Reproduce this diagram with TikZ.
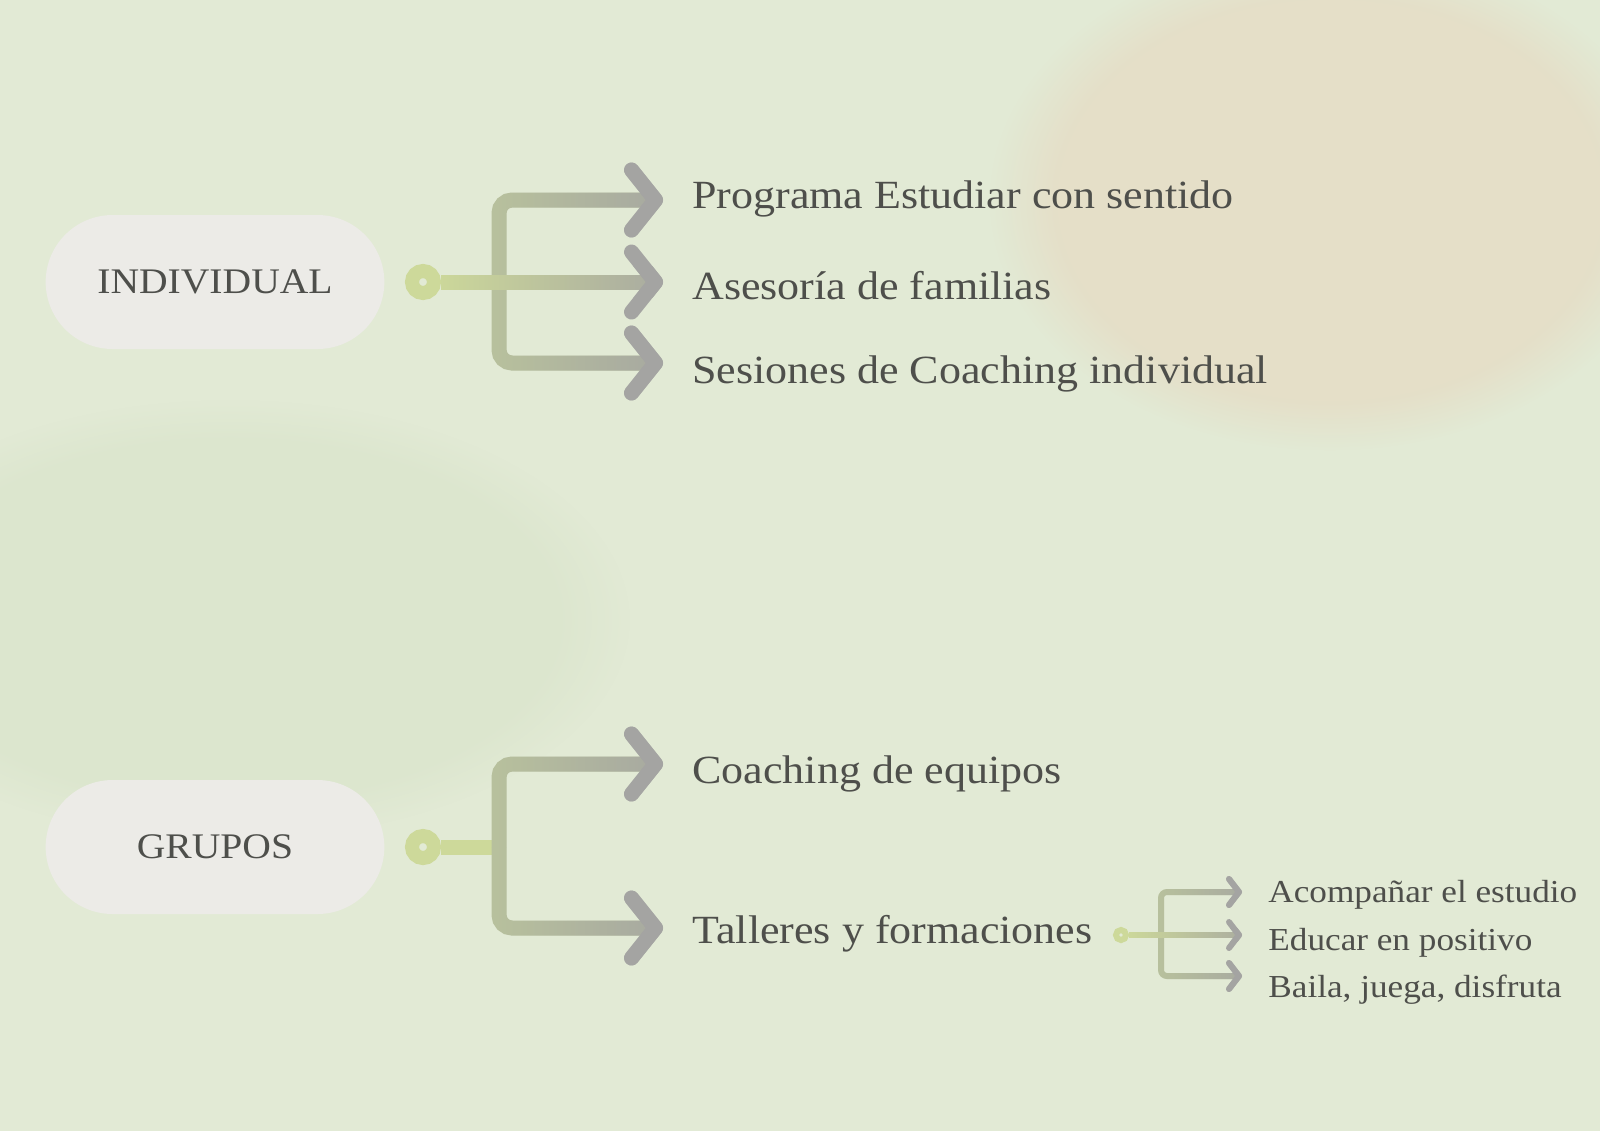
\documentclass[tikz,border=0pt]{standalone}
\usepackage{fontspec}
\setmainfont[FakeStretch=1.1]{Liberation Serif}
\usetikzlibrary{
  arrows.meta,
  positioning,
  shapes.misc,
  fadings
}
\definecolor{bgGreen}{HTML}{E2EAD5}
\definecolor{stainBeige}{HTML}{E5DFC8}
\definecolor{stainGreen}{HTML}{DCE6CE}
\definecolor{pillFill}{HTML}{ECEBE7}
\definecolor{inkGray}{HTML}{4E4F4B}
\definecolor{dotGreen}{HTML}{CDD99A}
\definecolor{barGreen}{HTML}{B8C19D}
\definecolor{tipGray}{HTML}{A4A4A2}
\tikzfading[name=toGray, left color=transparent!100, right color=transparent!0]

\begin{document}
\begin{tikzpicture}[
  x=0.5pt, y=-0.5pt,
  pill/.style={rounded rectangle, fill=pillFill, minimum width=176pt, minimum height=67pt,
    text=inkGray, font=\fontsize{18pt}{22pt}\selectfont},
  item/.style={anchor=west, inner sep=0pt, text=inkGray, text height=13pt, text depth=0pt,
    font=\fontsize{20pt}{24pt}\selectfont},
  subitem/.style={item, text height=10.5pt, font=\fontsize{16pt}{19pt}\selectfont},
  knob/.style={circle, draw=dotGreen, line width=7pt, minimum size=11pt, inner sep=0pt},
  arm/.style={line width=7.5pt, rounded corners=6.5pt, draw=barGreen,
    -{Straight Barb[length=12pt, width=30pt, round, color=tipGray]}, shorten >=14.5pt,
    postaction={draw=tipGray, path fading=toGray}},
  stem/.style={arm, draw=dotGreen},
  link/.style={line width=7.5pt, draw=dotGreen},
  subarm/.style={arm, line width=3pt, rounded corners=3pt,
    -{Straight Barb[length=5pt, width=13pt, round, color=tipGray]}, shorten >=13pt},
  substem/.style={subarm, draw=dotGreen}
]

% background
\useasboundingbox (0,0) rectangle (1600,1131);
\fill[bgGreen] (0,0) rectangle (1600,1131);
\clip (0,0) rectangle (1600,1131);
\fill[stainBeige, path fading=circle with fuzzy edge 20 percent] (1330,200) ellipse [x radius=170pt, y radius=125pt];
\fill[stainGreen, path fading=circle with fuzzy edge 20 percent] (230,620) ellipse [x radius=200pt, y radius=110pt];

% Individual
\node[pill] (ind) at (215,282) {INDIVIDUAL};
\node[knob] (indDot) at (423,282) {};
\coordinate (indFork) at (499,282);
\node[item] (prog) at (692,195) {Programa Estudiar con sentido};
\node[item] (ases) at (692,286) {Asesoría de familias};
\node[item] (sesi) at (692,370) {Sesiones de Coaching individual};

\draw[arm] (indFork) |- ([yshift=-2.5pt]prog.west);
\draw[arm] (indFork) |- ([yshift=3.5pt]sesi.west);
\draw[stem] (indDot.east) -- ([yshift=2pt]ases.west);

% Grupos
\node[pill] (grp) at (215,847) {GRUPOS};
\node[knob] (grpDot) at (423,847) {};
\coordinate (grpFork) at (499,847);
\node[item] (equi) at (692,770) {Coaching de equipos};
\node[item] (tall) at (692,930) {Talleres y formaciones};

\draw[link] (grpDot.east) -- (grpFork);
\draw[arm] (grpFork) |- ([yshift=3pt]equi.west);
\draw[arm] (grpFork) |- ([yshift=1pt]tall.west);

% Talleres sub-list
\node[knob, minimum size=5pt, line width=3pt] (subDot) at (1121,935) {};
\coordinate (subFork) at (1161,935);
\node[subitem] (acom) at (1268,892) {Acompañar el estudio};
\node[subitem] (educ) at (1268,940) {Educar en positivo};
\node[subitem] (bail) at (1268,987) {Baila, juega, disfruta};

\draw[subarm] (subFork) |- (acom.west);
\draw[subarm] (subFork) |- ([yshift=5.5pt]bail.west);
\draw[substem] (subDot.east) -- ([yshift=2.5pt]educ.west);

\end{tikzpicture}
\end{document}
